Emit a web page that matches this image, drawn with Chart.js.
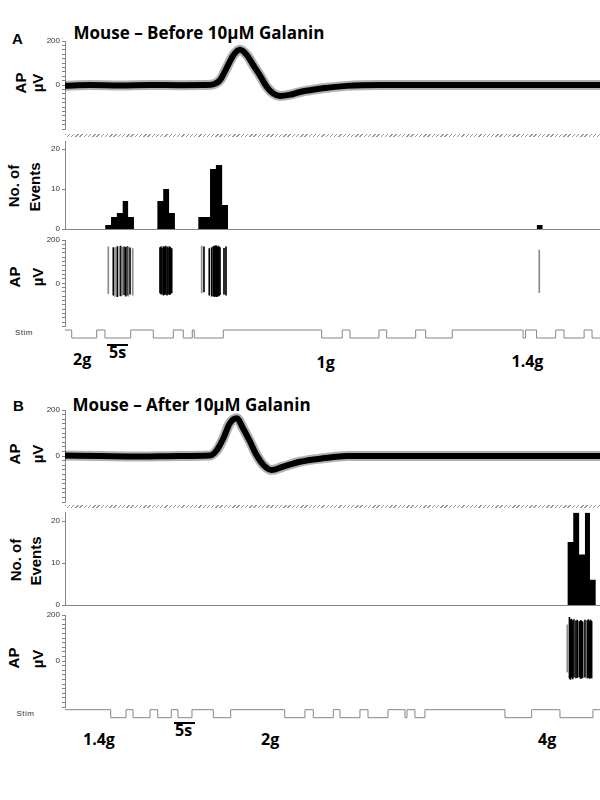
<!DOCTYPE html>
<html>
<head>
<meta charset="utf-8">
<script src="https://cdn.jsdelivr.net/npm/chart.js@4.4.1/dist/chart.umd.min.js"></script>
<style>
  html, body { margin: 0; padding: 0; background: #fff; }
  #fig { position: relative; width: 600px; height: 800px; overflow: hidden; font-family: 'Liberation Sans', Arial, sans-serif; }
  .txt { position: absolute; white-space: nowrap; color: #000; line-height: 1; }
  .big { font-family: 'Open Sans', sans-serif; font-weight: 700; font-size: 16px; }
  .title { font-size: 17px; }
  .letter { font-family: 'Liberation Sans', Arial, sans-serif; font-weight: 700; font-size: 15px; }
  .rot { position: absolute; white-space: nowrap; line-height: 1; font-weight: 700; font-size: 15px;
         transform: translate(-50%, -50%) rotate(-90deg); }
  .stim { font-size: 8px; color: #333; letter-spacing: 0.5px; }
  .hatch { position: absolute; left: 65px; width: 535px; height: 3px;
           background: repeating-linear-gradient(135deg, #999 0 1px, transparent 1px 3px); }
  .scalebar { position: absolute; height: 2px; background: #000; }
</style>
</head>
<body>
<div id="fig">
  <!-- panel A -->
  <div class="txt letter" style="left:12px;top:30.5px">A</div>
  <div class="txt big title" style="left:73.5px;top:23.7px">Mouse – Before 10µM Galanin</div>
  <div class="rot" style="left:19.5px;top:83px">AP</div>
  <div class="rot" style="left:36.5px;top:83px">µV</div>
  <div class="hatch" style="top:134px"></div>
  <div class="rot" style="left:13px;top:186px">No. of</div>
  <div class="rot" style="left:34px;top:187px">Events</div>
  <div class="rot" style="left:14px;top:277px">AP</div>
  <div class="rot" style="left:36.5px;top:277px">µV</div>
  <div class="txt stim" style="left:15px;top:329px">Stim</div>
  <div class="txt big" style="left:73px;top:350.5px">2g</div>
  <div class="scalebar" style="left:107px;top:344px;width:21px"></div>
  <div class="txt big" style="left:109px;top:344px">5s</div>
  <div class="txt big" style="left:316.5px;top:354px">1g</div>
  <div class="txt big" style="left:511.5px;top:353px">1.4g</div>

  <!-- panel B -->
  <div class="txt letter" style="left:13px;top:398px">B</div>
  <div class="txt big title" style="left:72.5px;top:396.3px">Mouse – After 10µM Galanin</div>
  <div class="rot" style="left:14px;top:454px">AP</div>
  <div class="rot" style="left:36.5px;top:454px">µV</div>
  <div class="hatch" style="top:504.5px"></div>
  <div class="rot" style="left:15px;top:560px">No. of</div>
  <div class="rot" style="left:35px;top:561px">Events</div>
  <div class="rot" style="left:13px;top:658px">AP</div>
  <div class="rot" style="left:36.5px;top:659px">µV</div>
  <div class="txt stim" style="left:16.5px;top:709.5px">Stim</div>
  <div class="txt big" style="left:83px;top:730.5px">1.4g</div>
  <div class="scalebar" style="left:174px;top:721.5px;width:20.5px"></div>
  <div class="txt big" style="left:175px;top:722px">5s</div>
  <div class="txt big" style="left:261px;top:730.5px">2g</div>
  <div class="txt big" style="left:538px;top:730.5px">4g</div>
</div>

<script>
// averaged spike waveform (time in ms, amplitude in µV)
const waveA_t  = [0, 0.47, 1.03, 1.59, 2.15, 2.62, 2.77, 2.90, 3.02, 3.15, 3.27, 3.40, 3.52, 3.64, 3.77, 3.89, 4.02, 4.21, 4.39, 4.82, 5.27, 5.89, 7.2, 10];
const waveA_uV = [-3, 0, -2, 0, -1, 0, 3, 23, 77, 136, 160, 136, 90, 45, -8, -38, -50, -44, -32, -15, -4, 0, 0, 0];
const waveB_t  = [0, 0.65, 1.4, 2.15, 2.71, 2.84, 2.96, 3.08, 3.21, 3.33, 3.46, 3.58, 3.71, 3.86, 4.08, 4.39, 4.82, 5.27, 7.2, 10];
const waveB_uV = [2, 0, -2, 0, 2, 26, 77, 142, 164, 120, 62, 4, -39, -61, -46, -25, -10, 0, 0, 0];

// histogram bins (bin start time in s, number of events)
const histA_t = [9.6, 11.0, 12.4, 13.8, 15.1, 16.5, 22.1, 23.5, 24.9, 26.3, 31.9, 33.3, 34.7, 36.1, 37.6, 39.0, 112.9, 114.3];
const histA_n = [1, 3, 4, 7, 3, 0, 7, 10, 4, 0, 3, 3, 15, 16, 6, 0, 1, 0];
const histB_t = [120.2, 121.6, 123.0, 124.4, 125.6, 127.0];
const histB_n = [15, 22, 12, 22, 6, 0];

// raster of spikes: time (s), max and min (µV)
const rasterA_greyT  = [10.36, 11.96, 12.99, 13.80, 15.14, 16.20, 32.70, 113.47];
const rasterA_greyHi = [168, 165, 170, 166, 168, 160, 172, 154];
const rasterA_greyLo = [-48, -60, -58, -55, -60, -55, -45, -43];
const rasterA_blackT  = [11.56, 12.51, 13.33, 14.11, 14.52, 14.90, 15.55,
  22.73, 22.97, 23.20, 23.52, 23.80, 24.04, 24.40, 24.64, 24.95, 25.19, 25.53,
  33.25, 34.52, 35.09, 35.48, 35.72, 35.89, 36.12, 36.29, 36.48, 36.67, 36.84, 37.08, 38.04, 38.52];
const rasterA_blackHi = [165, 170, 172, 168, 166, 170, 164,
  165, 168, 162, 170, 166, 172, 168, 164, 170, 166, 160,
  168, 160, 165, 170, 172, 168, 174, 170, 166, 172, 168, 165, 162, 168];
const rasterA_blackLo = [-55, -62, -58, -52, -60, -55, -50,
  -45, -50, -48, -55, -52, -50, -55, -48, -52, -50, -45,
  -40, -55, -60, -58, -62, -60, -58, -62, -60, -55, -58, -52, -50, -55];
const rasterB_greyT  = [120.17];
const rasterB_greyHi = [157];
const rasterB_greyLo = [-48];
const rasterB_blackT  = [120.69, 120.93, 121.17, 121.46, 121.77, 122.25, 122.56, 123.04, 123.37, 123.61, 123.85, 124.40, 124.95, 125.24, 125.53, 125.77, 126.00];
const rasterB_blackHi = [190, 178, 182, 176, 180, 175, 178, 172, 176, 174, 170, 178, 176, 180, 174, 178, 172];
const rasterB_blackLo = [-75, -80, -72, -78, -70, -74, -72, -70, -76, -74, -72, -70, -74, -72, -76, -72, -74];

// stimulus marker: time of each change (s) and level (1 = up, 0 = down)
const stimA_t     = [0, 1.6, 7.58, 9.57, 15.72, 21.12, 25.91, 28.3, 30.45, 30.93, 37.87, 61.41, 66.34, 68.18, 75.12, 76.96, 83.9, 86.29, 92.66, 109.6, 110.2, 112.8, 117.4, 119.4, 124.2, 126.1, 128];
const stimA_level = [1, 0, 1, 0, 1, 0, 1, 0, 1, 0, 1, 0, 1, 0, 1, 0, 1, 0, 1, 0, 1, 0, 1, 0, 1, 0, 0];
const stimB_t     = [0, 10.93, 14.59, 16.27, 20.33, 22.18, 25.43, 27.03, 30.38, 35.48, 39.64, 52.56, 57.42, 59.4, 64.19, 65.79, 70.57, 72.49, 77.27, 81.34, 81.82, 83.73, 86.12, 105.26, 111.65, 118.42, 126.32, 128];
const stimB_level = [1, 0, 1, 0, 1, 0, 1, 0, 1, 0, 1, 0, 1, 0, 1, 0, 1, 0, 1, 0, 1, 0, 1, 0, 1, 0, 1, 1];

const T_MAX = 128;
const PAD = 8;
const GREY = '#858585';
const TICK_FONT = { family: "'Liberation Sans', Arial, sans-serif", size: 8 };
const fig = document.getElementById('fig');

const xy = (xs, ys) => xs.map((x, i) => ({ x: x, y: ys[i] }));
const span = (xs, lo, hi) => xs.map((x, i) => ({ x: x, y: [lo[i], hi[i]] }));

// place a chart so that its plot area runs from areaTop to areaBottom
function panel(areaTop, areaBottom, config, leftPad) {
    const top = Math.floor(areaTop - PAD);
    const height = Math.ceil(areaBottom + PAD) - top;
    const c = document.createElement('canvas');
    c.width = 600;
    c.height = height;
    c.style.cssText = 'position:absolute;left:0;top:' + top + 'px;width:600px;height:' + height + 'px';
    fig.appendChild(c);
    config.options = Object.assign({
        responsive: false,
        animation: false,
        events: [],
        devicePixelRatio: 1,
        layout: { padding: { top: areaTop - top, bottom: top + height - areaBottom, left: leftPad || 0, right: 0 } },
        plugins: { legend: { display: false }, tooltip: { enabled: false } }
    }, config.options);
    return new Chart(c.getContext('2d'), config);
}

function yAxis(min, max, step, shown, tickLen) {
    return {
        min: min,
        max: max,
        afterFit: s => { s.width = 65; },
        border: { color: GREY },
        grid: { drawOnChartArea: false, tickLength: tickLen, color: GREY },
        ticks: {
            stepSize: step, autoSkip: false, includeBounds: false, padding: 2,
            color: '#333', font: TICK_FONT,
            callback: v => shown.indexOf(v) >= 0 ? String(v) : ''
        }
    };
}

function xAxis(max, line) {
    return {
        type: 'linear', min: 0, max: max, offset: false, display: line,
        ticks: { display: false },
        grid: { display: false, drawTicks: false },
        border: { display: line, color: GREY }
    };
}

function waveChart(top, bottom, t, uv) {
    const pts = xy(t, uv);
    panel(top, bottom, {
        type: 'line',
        data: {
            datasets: [
                { data: pts, borderColor: 'rgba(0,0,0,0.3)', borderWidth: 10, pointRadius: 0, cubicInterpolationMode: 'monotone' },
                { data: pts, borderColor: '#000', borderWidth: 6, pointRadius: 0, cubicInterpolationMode: 'monotone' }
            ]
        },
        options: { scales: { x: xAxis(10, false), y: yAxis(-200, 200, 20, [200, 0], 3) } }
    });
}

function histChart(top, bottom, t, n) {
    panel(top, bottom, {
        type: 'line',
        data: {
            datasets: [{
                data: xy(t, n), stepped: true, fill: 'origin',
                backgroundColor: '#000', borderColor: 'rgba(0,0,0,0)', pointRadius: 0
            }]
        },
        options: { scales: { x: xAxis(T_MAX, true), y: yAxis(0, 22, 10, [0, 10, 20], 3) } }
    });
}

function rasterChart(top, bottom, gT, gLo, gHi, bT, bLo, bHi) {
    panel(top, bottom, {
        type: 'bar',
        data: {
            datasets: [
                { data: span(gT, gLo, gHi), backgroundColor: '#8a8a8a', barThickness: 1, grouped: false },
                { data: span(bT, bLo, bHi), backgroundColor: '#000', barThickness: 1, grouped: false }
            ]
        },
        options: { scales: { x: xAxis(T_MAX, false), y: yAxis(-200, 200, 20, [200, 0], 3) } }
    });
}

function stimChart(upY, t, level) {
    // 4 px between the up and down levels
    panel(upY - 4 * 1.5, upY + 4 * 2.5, {
        type: 'line',
        data: {
            datasets: [{ data: xy(t, level), stepped: true, borderColor: GREY, borderWidth: 1, pointRadius: 0 }]
        },
        options: {
            scales: {
                x: xAxis(T_MAX, false),
                y: { display: false, min: -0.5, max: 1.5 }
            }
        }
    }, 65);
}

// panel A
waveChart(41, 129, waveA_t, waveA_uV);
histChart(141, 229, histA_t, histA_n);
rasterChart(240, 326.6, rasterA_greyT, rasterA_greyLo, rasterA_greyHi, rasterA_blackT, rasterA_blackLo, rasterA_blackHi);
stimChart(332, stimA_t, stimA_level);

// panel B
waveChart(410, 502, waveB_t, waveB_uV);
histChart(512.6, 605, histB_t, histB_n);
rasterChart(615, 707, rasterB_greyT, rasterB_greyLo, rasterB_greyHi, rasterB_blackT, rasterB_blackLo, rasterB_blackHi);
stimChart(711.7, stimB_t, stimB_level);
</script>
</body>
</html>
